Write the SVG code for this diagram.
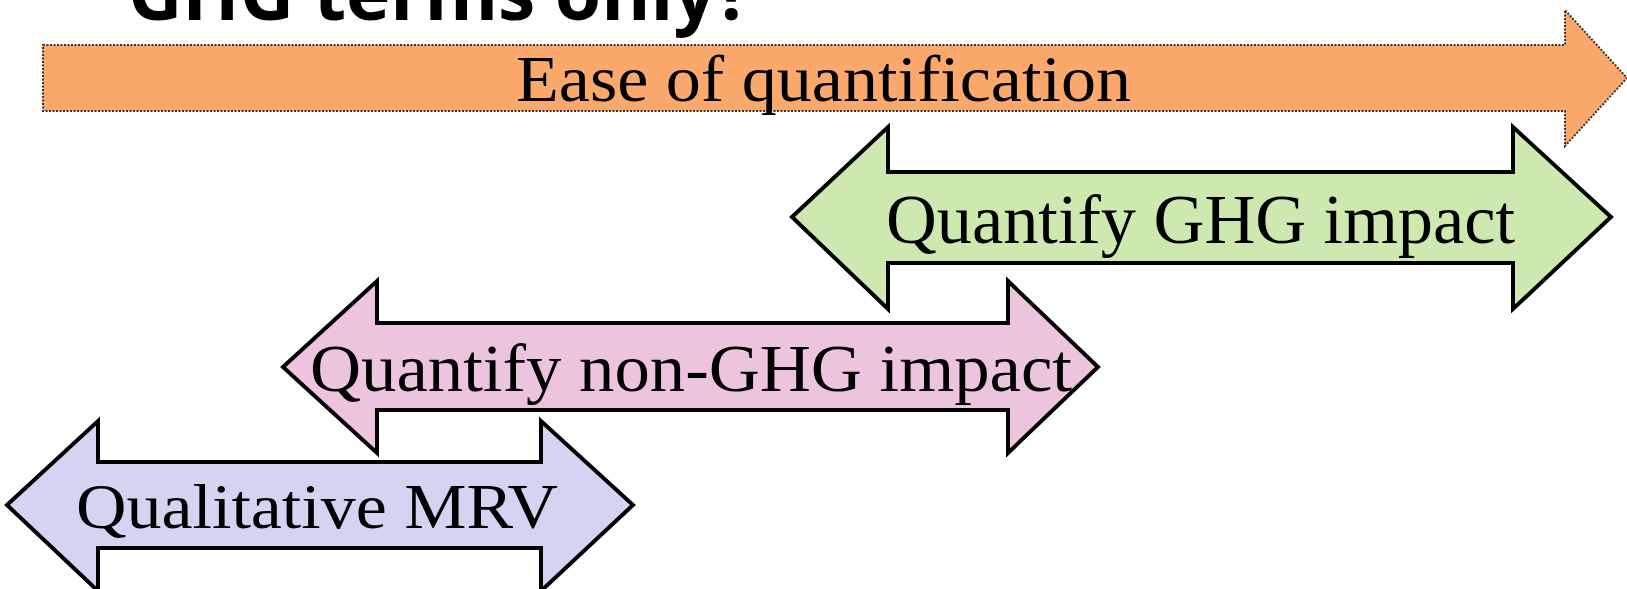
<svg xmlns="http://www.w3.org/2000/svg" width="1627" height="589" viewBox="0 0 1627 589">
<style>
.arrow{stroke:#000;stroke-width:4;stroke-linejoin:miter}
.lbl{font-family:"Liberation Serif","Times New Roman",serif;fill:#000}
.title{font-family:"Open Sans","Noto Sans",sans-serif;font-weight:bold;fill:#000}
</style>
<rect width="1627" height="589" fill="#fff"/>
<g id="title">
<text class="title" x="128" y="20" font-size="75">GHG terms only?</text>
</g>
<g id="ease">
<path d="M43,45 H1565 V10 L1627,78 L1565,146 V111 H43 Z" fill="#FAA86C" stroke="#333" stroke-width="2" stroke-dasharray="2 1.5"/>
<text class="lbl" x="516" y="101" font-size="65" textLength="615" lengthAdjust="spacingAndGlyphs">Ease of quantification</text>
</g>
<g id="ghg">
<path class="arrow" d="M792,217 L888,127 V172 H1513 V127 L1611,217 L1513,309 V263 H888 V309 Z" fill="#CDE9AF"/>
<text class="lbl" x="886" y="243" font-size="69" textLength="629" lengthAdjust="spacingAndGlyphs">Quantify GHG impact</text>
</g>
<g id="nonghg">
<path class="arrow" d="M283,367 L377,281 V323 H1008 V281 L1098,367 L1008,453 V410 H377 V453 Z" fill="#ECC4DD"/>
<text class="lbl" x="310" y="391" font-size="67" textLength="762" lengthAdjust="spacingAndGlyphs">Quantify non-GHG impact</text>
</g>
<g id="mrv">
<path class="arrow" d="M7,505 L98,421 V462 H541 V421 L633,505 L541,591 V548 H98 V591 Z" fill="#D2D4F2"/>
<text class="lbl" x="76" y="528" font-size="64" textLength="482" lengthAdjust="spacingAndGlyphs">Qualitative MRV</text>
</g>
<g id="connectors"/>
</svg>
